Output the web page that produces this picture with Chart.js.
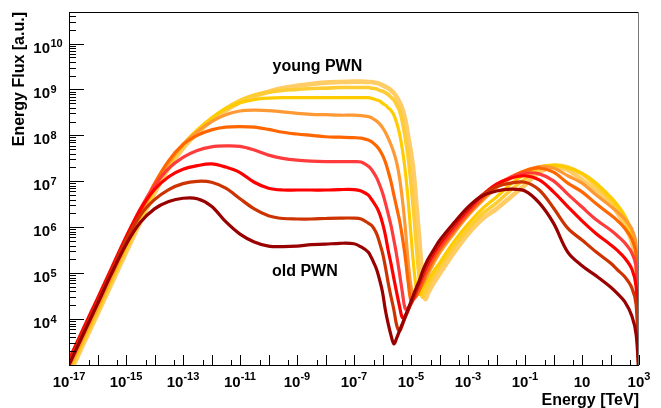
<!DOCTYPE html>
<html><head><meta charset="utf-8">
<script src="https://cdn.jsdelivr.net/npm/chart.js@4.4.1/dist/chart.umd.min.js"></script>
<style>html,body{margin:0;padding:0;background:#fff;}#wrap{width:661px;height:408px;}</style>
</head><body><div id="wrap"><canvas id="c" width="661" height="408"></canvas></div>
<script>
// Energy grid [TeV]
const energies = [1e-17,3.16e-17,1e-16,3.16e-16,1e-15,3.16e-15,1e-14,3.16e-14,1e-13,3.16e-13,1e-12,3.16e-12,1e-11,3.16e-11,1e-10,3.16e-10,1e-9,3.16e-9,1e-8,3.16e-8,1e-7,1.78e-7,3.16e-7,3.98e-7,5.01e-7,6.31e-7,7.94e-7,1e-6,1.26e-6,1.58e-6,2.0e-6,2.51e-6,3.16e-6,3.98e-6,5.01e-6,6.31e-6,7.94e-6,1e-5,1.26e-5,1.58e-5,2.0e-5,2.51e-5,3.16e-5,3.98e-5,6.31e-5,1e-4,3.16e-4,1e-3,3.16e-3,1e-2,3.16e-2,0.1,0.316,1,3.16,10,31.6,100,178,316,562,794,1000];

// Energy flux [a.u.], oldest (dark red) to youngest (pale yellow)
const fluxAge1 = [1.0e3,4.68e3,2.14e4,1.0e5,4.17e5,1.26e6,2.51e6,3.63e6,4.27e6,4.17e6,2.88e6,1.32e6,7.08e5,4.79e5,3.89e5,3.80e5,3.89e5,4.17e5,4.27e5,4.47e5,4.37e5,3.72e5,2.88e5,2.24e5,1.66e5,1.17e5,7.08e4,3.89e4,1.58e4,7.94e3,4.37e3,2.88e3,3.89e3,5.62e3,7.94e3,1.17e4,1.66e4,2.40e4,3.55e4,5.01e4,7.08e4,1.07e5,1.51e5,2.04e5,3.24e5,5.13e5,1.23e6,2.75e6,4.79e6,6.17e6,6.76e6,6.17e6,3.39e6,1.23e6,2.88e5,1.45e5,8.71e4,5.01e4,3.55e4,2.40e4,1.17e4,4.57e3,5.0e2];
const fluxAge2 = [1.12e3,5.25e3,2.40e4,1.12e5,5.25e5,1.82e6,3.98e6,6.61e6,8.91e6,1.0e7,9.55e6,7.08e6,4.17e6,2.51e6,1.78e6,1.55e6,1.51e6,1.51e6,1.55e6,1.58e6,1.58e6,1.51e6,1.23e6,1.12e6,9.33e5,7.08e5,4.57e5,2.75e5,1.38e5,6.17e4,3.02e4,1.58e4,7.24e3,5.50e3,7.59e3,1.10e4,1.55e4,2.24e4,3.24e4,4.57e4,6.46e4,9.33e4,1.35e5,1.86e5,3.09e5,4.79e5,1.17e6,2.63e6,5.01e6,7.59e6,9.12e6,9.55e6,6.46e6,2.63e6,9.55e5,5.25e5,2.88e5,1.66e5,1.17e5,8.32e4,4.79e4,2.04e4,6.3e2];
const fluxAge3 = [1.32e3,6.17e3,2.82e4,1.32e5,6.17e5,2.40e6,6.61e6,1.26e7,1.82e7,2.19e7,2.40e7,2.04e7,1.55e7,9.55e6,7.08e6,6.46e6,6.46e6,6.46e6,6.46e6,6.61e6,6.61e6,6.17e6,5.01e6,4.17e6,3.39e6,2.69e6,1.95e6,1.23e6,6.76e5,3.16e5,1.58e5,7.59e4,3.72e4,1.86e4,1.07e4,1.15e4,1.58e4,2.19e4,3.09e4,4.37e4,6.17e4,8.71e4,1.23e5,1.66e5,2.75e5,4.27e5,1.07e6,2.40e6,5.01e6,8.71e6,1.17e7,1.32e7,1.07e7,5.89e6,2.82e6,1.38e6,7.24e5,4.17e5,3.09e5,2.14e5,1.23e5,5.01e4,7.1e2];
const fluxAge4 = [1.20e3,5.62e3,2.57e4,1.20e5,5.62e5,2.51e6,7.94e6,1.91e7,3.31e7,4.68e7,5.62e7,5.89e7,5.75e7,4.79e7,3.72e7,3.16e7,2.88e7,2.75e7,2.69e7,2.69e7,2.69e7,2.63e7,2.14e7,1.86e7,1.51e7,1.17e7,8.32e6,5.62e6,3.39e6,1.95e6,1.07e6,5.25e5,2.40e5,9.55e4,3.72e4,1.66e4,1.78e4,2.14e4,2.82e4,3.89e4,5.37e4,7.59e4,1.07e5,1.45e5,2.40e5,3.72e5,9.12e5,2.14e6,4.57e6,8.32e6,1.23e7,1.51e7,1.45e7,1.02e7,5.25e6,2.75e6,1.45e6,8.71e5,6.46e5,4.57e5,2.75e5,1.32e5,7.9e2];
const fluxAge5 = [1.0e3,4.68e3,2.14e4,1.0e5,4.68e5,2.14e6,8.91e6,2.82e7,6.31e7,1.0e8,1.32e8,1.51e8,1.55e8,1.51e8,1.35e8,1.17e8,1.07e8,1.0e8,9.33e7,9.12e7,8.91e7,8.71e7,7.94e7,7.41e7,6.61e7,5.75e7,4.79e7,3.72e7,2.63e7,1.66e7,9.55e6,5.01e6,2.63e6,1.38e6,5.89e5,2.19e5,6.46e4,2.51e4,2.75e4,3.24e4,4.37e4,6.17e4,8.71e4,1.17e5,2.04e5,3.24e5,8.32e5,1.95e6,4.17e6,7.94e6,1.23e7,1.70e7,1.95e7,1.58e7,9.12e6,5.89e6,3.24e6,1.86e6,1.38e6,9.55e5,5.50e5,2.51e5,7.9e2];
const fluxAge6 = [8.51e2,3.98e3,1.82e4,8.51e4,3.98e5,1.82e6,7.59e6,2.51e7,6.31e7,1.20e8,2.0e8,2.82e8,3.39e8,3.55e8,3.47e8,3.24e8,3.02e8,2.88e8,2.82e8,2.75e8,2.75e8,2.69e8,2.57e8,2.45e8,2.24e8,2.04e8,1.78e8,1.48e8,1.17e8,8.71e7,6.17e7,4.17e7,2.51e7,1.17e7,3.89e6,9.55e5,1.78e5,5.25e4,3.09e4,3.55e4,4.37e4,5.62e4,7.08e4,9.55e4,1.66e5,2.75e5,7.24e5,1.78e6,3.72e6,7.24e6,1.17e7,1.66e7,2.09e7,1.95e7,1.32e7,9.12e6,5.01e6,2.88e6,2.14e6,1.51e6,9.12e5,4.17e5,7.9e2];
const fluxAge7 = [7.59e2,3.55e3,1.62e4,7.59e4,3.55e5,1.62e6,6.92e6,2.40e7,6.31e7,1.32e8,2.40e8,3.80e8,5.13e8,6.03e8,6.46e8,6.61e8,6.61e8,6.61e8,6.61e8,6.61e8,6.61e8,6.61e8,6.61e8,6.46e8,6.17e8,5.89e8,5.62e8,5.01e8,4.57e8,3.98e8,3.47e8,2.75e8,1.86e8,1.07e8,4.79e7,1.66e7,3.89e6,6.76e5,1.32e5,4.37e4,3.39e4,4.37e4,5.62e4,7.08e4,1.12e5,1.66e5,4.79e5,1.17e6,2.51e6,4.57e6,8.71e6,1.45e7,2.04e7,2.24e7,1.95e7,1.51e7,9.12e6,4.57e6,3.02e6,1.78e6,7.94e5,2.63e5,7.9e2];
const fluxAge8 = [6.92e2,3.24e3,1.48e4,6.92e4,3.24e5,1.48e6,6.31e6,2.19e7,5.89e7,1.26e8,2.34e8,3.89e8,5.75e8,7.59e8,8.71e8,9.55e8,1.0e9,1.05e9,1.07e9,1.10e9,1.10e9,1.10e9,1.10e9,1.07e9,1.05e9,1.02e9,9.55e8,9.12e8,8.51e8,7.76e8,6.76e8,5.89e8,4.57e8,3.39e8,1.95e8,8.71e7,3.39e7,8.71e6,1.86e6,3.24e5,6.46e4,3.02e4,3.89e4,5.25e4,8.71e4,1.32e5,3.72e5,9.12e5,1.95e6,3.39e6,6.46e6,1.12e7,1.86e7,2.24e7,2.04e7,1.45e7,7.94e6,3.89e6,2.51e6,1.45e6,6.46e5,2.14e5,7.9e2];
const fluxAge9 = [6.03e2,2.82e3,1.29e4,6.03e4,2.82e5,1.29e6,5.50e6,1.95e7,5.25e7,1.12e8,2.09e8,3.47e8,5.25e8,7.08e8,8.91e8,1.07e9,1.20e9,1.32e9,1.41e9,1.45e9,1.48e9,1.48e9,1.45e9,1.45e9,1.41e9,1.38e9,1.32e9,1.23e9,1.15e9,1.07e9,9.55e8,8.32e8,6.76e8,5.25e8,3.72e8,2.14e8,9.55e7,4.17e7,1.38e7,2.63e6,4.57e5,7.94e4,2.75e4,3.72e4,6.17e4,9.55e4,2.75e5,7.08e5,1.51e6,2.51e6,4.57e6,8.32e6,1.58e7,2.04e7,1.78e7,1.07e7,6.17e6,3.24e6,2.04e6,1.07e6,4.79e5,1.51e5,7.9e2];

const seriesData = [fluxAge1,fluxAge2,fluxAge3,fluxAge4,fluxAge5,fluxAge6,fluxAge7,fluxAge8,fluxAge9];
const seriesColors = ['#990000','#cc3300','#ff0000','#ff3b3b','#ff6600','#ff9933','#ffcc00','#ffcc33','#ffcc66'];
const seriesWidths = [3.2,3.2,3.2,3.2,3.2,3.2,3.2,3.6,4.6];

// axis ticks
const xTickLabelValues = [1e-17,1e-15,1e-13,1e-11,1e-9,1e-7,1e-5,1e-3,1e-1,10,1e3];
const xTickLabels = ['10^-17','10^-15','10^-13','10^-11','10^-9','10^-7','10^-5','10^-3','10^-1','10','10^3'];
const yTickLabelValues = [1e4,1e5,1e6,1e7,1e8,1e9,1e10];
const yTickLabels = ['10^4','10^5','10^6','10^7','10^8','10^9','10^10'];
const annotations = ['young PWN','old PWN'];

const FONT = "'Liberation Sans', Arial, Helvetica, sans-serif";
Chart.defaults.font.family = FONT;

const rootAxes = {
  id: 'rootAxes',
  afterDatasetsDraw(chart) {
    const {ctx, chartArea: a, scales: {x, y}} = chart;
    ctx.save();
    ctx.strokeStyle = '#000';
    ctx.lineWidth = 1;
    ctx.beginPath();
    ctx.moveTo(a.left + 0.5, a.top + 0.5); ctx.lineTo(a.right - 0.5, a.top + 0.5);
    ctx.moveTo(a.left + 0.5, a.top); ctx.lineTo(a.left + 0.5, a.bottom + 0.5);
    ctx.moveTo(a.left, a.bottom + 0.5); ctx.lineTo(a.right, a.bottom + 0.5);
    ctx.stroke();
    ctx.strokeStyle = '#777';
    ctx.beginPath();
    ctx.moveTo(a.right - 0.5, a.top); ctx.lineTo(a.right - 0.5, a.bottom);
    ctx.stroke();
    ctx.strokeStyle = '#000';
    ctx.beginPath();
    for (let d = 3; d <= 10; d++) {
      for (let m = 1; m <= 9; m++) {
        const v = m * Math.pow(10, d);
        if (v < y.min * 0.999 || v > y.max) continue;
        const py = Math.round(y.getPixelForValue(v)) + 0.5;
        const len = m === 1 ? 15 : 7;
        ctx.moveTo(a.left, py); ctx.lineTo(a.left + len, py);
      }
    }
    for (let d = -17; d <= 3; d++) {
      for (const m of [1, 5]) {
        const v = m * Math.pow(10, d);
        if (v < x.min * 0.999 || v > x.max * 1.001) continue;
        const px = Math.round(x.getPixelForValue(v)) + 0.5;
        const len = m === 1 ? 10 : 5;
        ctx.moveTo(px, a.bottom); ctx.lineTo(px, a.bottom - len);
      }
    }
    ctx.stroke();
    ctx.fillStyle = '#000';
    ctx.textBaseline = 'alphabetic';
    const baseFont = 'bold 15px ' + FONT, expFont = 'bold 11px ' + FONT;
    xTickLabels.forEach((lab, i) => {
      const [b, e] = lab.split('^');
      const px = x.getPixelForValue(xTickLabelValues[i]);
      ctx.font = baseFont; const wb = ctx.measureText(b).width;
      ctx.font = expFont; const we = e ? ctx.measureText(e).width : 0;
      const x0 = px - (wb + we) / 2;
      ctx.font = baseFont; ctx.textAlign = 'left';
      ctx.fillText(b, x0, a.bottom + 21.5);
      if (e) { ctx.font = expFont; ctx.fillText(e, x0 + wb, a.bottom + 14.5); }
    });
    yTickLabels.forEach((lab, i) => {
      const [b, e] = lab.split('^');
      const py = y.getPixelForValue(yTickLabelValues[i]);
      ctx.font = baseFont; ctx.textAlign = 'right';
      ctx.fillText(b, a.left - 19, py + 9);
      ctx.font = expFont; ctx.textAlign = 'left';
      ctx.fillText(e, a.left - 18.5, py + 3.5);
    });
    ctx.font = 'bold 16px ' + FONT;
    ctx.textAlign = 'left';
    ctx.fillText(annotations[0], 272.5, 70.5);
    ctx.fillText(annotations[1], 272, 275.5);
    ctx.restore();
  }
};

const datasets = seriesData.map((arr, k) => ({
  label: 'age ' + (k + 1),
  data: energies.map((e, i) => ({x: e, y: arr[i]})),
  borderColor: seriesColors[k],
  backgroundColor: seriesColors[k],
  borderWidth: seriesWidths[k],
  pointRadius: 0,
  fill: false,
  tension: 0.35,
  clip: 0
}));

new Chart(document.getElementById('c'), {
  type: 'line',
  data: {datasets},
  options: {
    responsive: false,
    animation: false,
    devicePixelRatio: 1,
    layout: {padding: {left: 0, right: 22, top: 12, bottom: 0}},
    plugins: {legend: {display: false}, tooltip: {enabled: false}},
    elements: {line: {borderCapStyle: 'round', borderJoinStyle: 'round'}},
    scales: {
      x: {
        type: 'logarithmic', min: 1e-17, max: 1e3,
        grid: {display: false}, border: {display: false},
        ticks: {display: false},
        title: {display: true, text: 'Energy [TeV]', align: 'end', color: '#000',
                font: {size: 16, weight: 'bold'}, padding: {top: 0, bottom: -2}},
        afterFit(s) { s.height = 43; }
      },
      y: {
        type: 'logarithmic', min: 1e3, max: 4.86e10,
        grid: {display: false}, border: {display: false},
        ticks: {display: false},
        title: {display: true, text: 'Energy Flux [a.u.]', align: 'end', color: '#000',
                font: {size: 16, weight: 'bold'}, padding: {top: 10, bottom: 0}},
        afterFit(s) { s.width = 69; }
      }
    }
  },
  plugins: [rootAxes]
});
</script>
</body></html>
